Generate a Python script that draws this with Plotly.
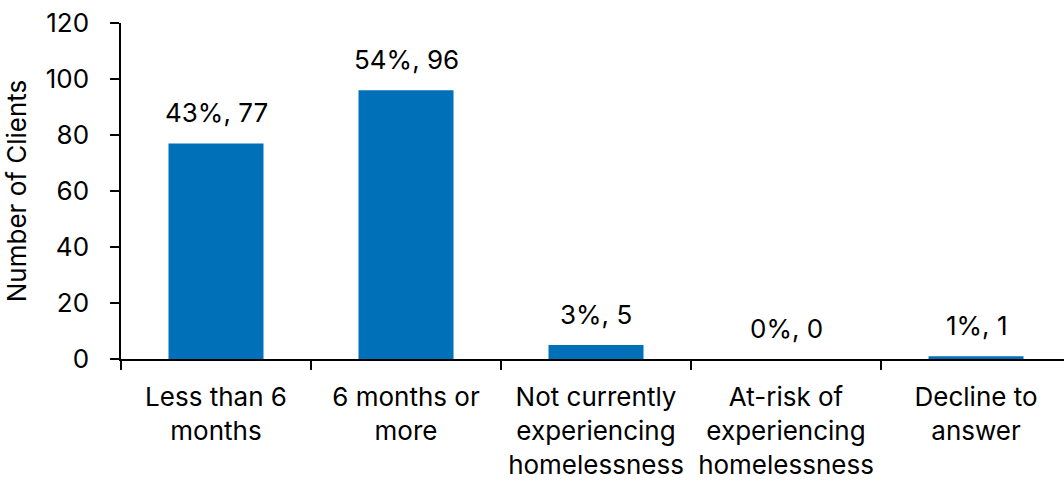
import plotly.graph_objects as go

categories = [
    "Less than 6<br>months",
    "6 months or<br>more",
    "Not currently<br>experiencing<br>homelessness",
    "At-risk of<br>experiencing<br>homelessness",
    "Decline to<br>answer",
]
counts = [77, 96, 5, 0, 1]
percents = ["43%", "54%", "3%", "0%", "1%"]
y_ticks = [0, 20, 40, 60, 80, 100, 120]

FONT = "Inter"
FS = 26
BAR_COLOR = "#0070B8"

fig = go.Figure()
fig.add_trace(go.Bar(
    x=categories,
    y=counts,
    width=0.5,
    marker=dict(color=BAR_COLOR, line=dict(width=0)),
    hoverinfo="skip",
))

for c, v, p in zip(categories, counts, percents):
    fig.add_annotation(
        x=c, y=v, text=f"{p}, {v}", showarrow=False,
        yanchor="bottom", yshift=13,
        font=dict(family=FONT, size=FS, color="#000000"),
    )

fig.update_layout(
    width=1064, height=485,
    margin=dict(l=121, r=0, t=23, b=126, pad=0),
    paper_bgcolor="white", plot_bgcolor="white",
    showlegend=False,
    font=dict(family=FONT, size=FS, color="#000000"),
)
fig.update_xaxes(
    type="category",
    range=[-0.5, 4.463],
    showline=True, linecolor="#000000", linewidth=1.5,
    ticks="outside", ticklen=9, tickwidth=1.5, tickcolor="#000000",
    tickson="boundaries",
    ticklabelstandoff=14,
    showgrid=False, zeroline=False,
    tickfont=dict(family=FONT, size=FS, color="#000000"),
)
fig.update_yaxes(
    range=[0, 120],
    tickvals=y_ticks,
    showline=True, linecolor="#000000", linewidth=1.5,
    ticks="outside", ticklen=9, tickwidth=1.5, tickcolor="#000000",
    ticklabelstandoff=16,
    showgrid=False, zeroline=False,
    title=dict(text="Number of Clients", standoff=12,
               font=dict(family=FONT, size=FS, color="#000000")),
    tickfont=dict(family=FONT, size=FS, color="#000000"),
)

fig.write_html("out.html")
